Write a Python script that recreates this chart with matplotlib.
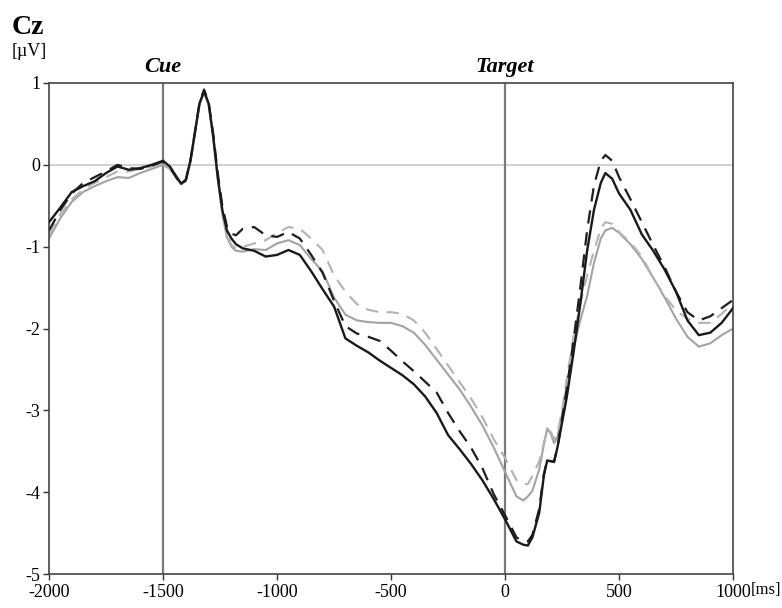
import matplotlib
matplotlib.use("Agg")
from matplotlib import pyplot as plt

# time axis in ms (shared by all four waveforms)
t_ms = [-2000, -1950, -1900, -1850, -1800, -1750, -1700, -1650, -1600, -1550,
        -1500, -1470, -1440, -1420, -1400, -1380, -1360, -1340, -1320, -1300,
        -1280, -1260, -1240, -1220, -1200, -1180, -1150, -1100, -1050, -1000,
        -950, -900, -850, -800, -750, -700, -650, -600, -550, -500,
        -450, -400, -350, -300, -250, -200, -150, -100, -50, 0,
        50, 80, 100, 120, 150, 170, 185, 200, 215, 230,
        250, 270, 300, 330, 360, 390, 420, 440, 470, 500,
        550, 600, 650, 700, 750, 800, 850, 900, 950, 1000]

black_solid = [-0.70, -0.52, -0.33, -0.26, -0.20, -0.10, -0.02, -0.06, -0.04, 0.00,
               0.05, -0.02, -0.15, -0.23, -0.18, 0.05, 0.40, 0.75, 0.90, 0.75,
               0.35, -0.15, -0.55, -0.80, -0.90, -0.97, -1.02, -1.05, -1.12, -1.10,
               -1.04, -1.10, -1.30, -1.52, -1.73, -2.12, -2.21, -2.29, -2.39, -2.48,
               -2.57, -2.68, -2.83, -3.03, -3.30, -3.47, -3.65, -3.85, -4.08, -4.33,
               -4.60, -4.64, -4.65, -4.55, -4.25, -3.80, -3.61, -3.62, -3.63, -3.45,
               -3.15, -2.85, -2.30, -1.70, -1.05, -0.55, -0.22, -0.10, -0.17, -0.35,
               -0.55, -0.85, -1.05, -1.28, -1.55, -1.90, -2.08, -2.05, -1.93, -1.75]

black_dashed = [-0.80, -0.55, -0.35, -0.22, -0.15, -0.08, 0.00, -0.04, -0.05, -0.01,
                0.04, -0.03, -0.16, -0.24, -0.19, 0.05, 0.40, 0.76, 0.92, 0.77,
                0.38, -0.10, -0.50, -0.75, -0.84, -0.86, -0.78, -0.76, -0.86, -0.88,
                -0.82, -0.90, -1.10, -1.32, -1.66, -1.97, -2.06, -2.10, -2.15, -2.27,
                -2.40, -2.52, -2.65, -2.78, -3.03, -3.25, -3.45, -3.70, -4.02, -4.28,
                -4.55, -4.60, -4.60, -4.52, -4.20, -3.78, -3.60, -3.62, -3.62, -3.45,
                -3.10, -2.75, -2.15, -1.50, -0.80, -0.25, 0.05, 0.12, 0.05, -0.15,
                -0.42, -0.70, -0.98, -1.25, -1.55, -1.80, -1.90, -1.85, -1.75, -1.65]

gray_solid = [-0.90, -0.65, -0.45, -0.33, -0.26, -0.20, -0.15, -0.16, -0.10, -0.05,
              0.00, -0.05, -0.17, -0.24, -0.19, 0.03, 0.38, 0.74, 0.88, 0.73,
              0.33, -0.18, -0.60, -0.88, -1.00, -1.05, -1.06, -1.03, -1.04, -0.96,
              -0.92, -0.98, -1.15, -1.30, -1.62, -1.83, -1.90, -1.92, -1.93, -1.93,
              -1.97, -2.05, -2.20, -2.38, -2.56, -2.74, -2.95, -3.18, -3.45, -3.75,
              -4.05, -4.10, -4.05, -3.98, -3.72, -3.42, -3.22, -3.28, -3.40, -3.32,
              -3.05, -2.70, -2.25, -1.90, -1.60, -1.20, -0.90, -0.80, -0.77, -0.83,
              -0.97, -1.15, -1.38, -1.62, -1.88, -2.10, -2.22, -2.18, -2.08, -2.00]

gray_dashed = [-0.85, -0.60, -0.42, -0.30, -0.22, -0.15, -0.08, -0.08, -0.05, -0.02,
               0.02, -0.04, -0.16, -0.23, -0.18, 0.04, 0.40, 0.76, 0.90, 0.75,
               0.36, -0.15, -0.58, -0.85, -0.98, -1.02, -1.00, -0.96, -0.92, -0.83,
               -0.76, -0.78, -0.90, -1.04, -1.35, -1.55, -1.70, -1.77, -1.80, -1.80,
               -1.82, -1.90, -2.05, -2.25, -2.45, -2.65, -2.85, -3.08, -3.35, -3.58,
               -3.85, -3.90, -3.90, -3.80, -3.62, -3.40, -3.24, -3.26, -3.35, -3.28,
               -3.00, -2.62, -2.10, -1.70, -1.35, -1.05, -0.78, -0.70, -0.72, -0.82,
               -0.95, -1.12, -1.38, -1.60, -1.78, -1.88, -1.93, -1.93, -1.82, -1.69]

x_ticks = [-2000, -1500, -1000, -500, 0, 500, 1000]
y_ticks = [-5, -4, -3, -2, -1, 0, 1]
events = [(-1500, "Cue"), (0, "Target")]

plt.rcParams['font.family'] = ['Liberation Serif', 'DejaVu Serif']

fig = plt.figure(figsize=(7.82, 6.08), dpi=100)
ax = fig.add_axes([0.0627, 0.0556, 0.8747, 0.8079])

ax.axhline(0, color='#c8c8c8', lw=1.2, zorder=1)
for x, name in events:
    ax.axvline(x, color='#7a7a7a', lw=1.6, zorder=1)
    ax.text(x, 1.012, name, ha='center', va='bottom', fontsize=16,
            fontweight='bold', fontstyle='italic',
            transform=ax.get_xaxis_transform())

ax.plot(t_ms, gray_solid, color='#a3a3a3', lw=1.5, zorder=2)
ax.plot(t_ms, gray_dashed, color='#b3b3b3', lw=1.5, ls=(0, (6, 4)), zorder=2)
ax.plot(t_ms, black_dashed, color='#1e1e1e', lw=1.6, ls=(0, (6, 4)), zorder=3)
ax.plot(t_ms, black_solid, color='#1a1a1a', lw=1.7, zorder=3)

ax.set_xlim(-2000, 1000)
ax.set_ylim(-5, 1)
ax.set_xticks(x_ticks)
ax.set_xticklabels([str(v) for v in x_ticks])
ax.set_yticks(y_ticks)
ax.set_yticklabels([str(v) for v in y_ticks])
ax.tick_params(direction='out', length=4, width=1.0, colors='#333333',
               labelsize=13, labelcolor='black')
ax.tick_params(axis='x', pad=3)
ax.tick_params(axis='y', pad=2)
for s in ax.spines.values():
    s.set_color('#444444')
    s.set_linewidth(1.2)

# unit label next to the last x tick label
ax.text(1.026, -0.032, "[ms]", transform=ax.transAxes, fontsize=12,
        ha='left', va='center')
fig.text(0.015, 0.955, "Cz", fontsize=20, fontweight='bold', va='center')
fig.text(0.015, 0.915, "[\u00b5V]", fontsize=13, va='center')

fig.savefig("out.png", dpi=100)
